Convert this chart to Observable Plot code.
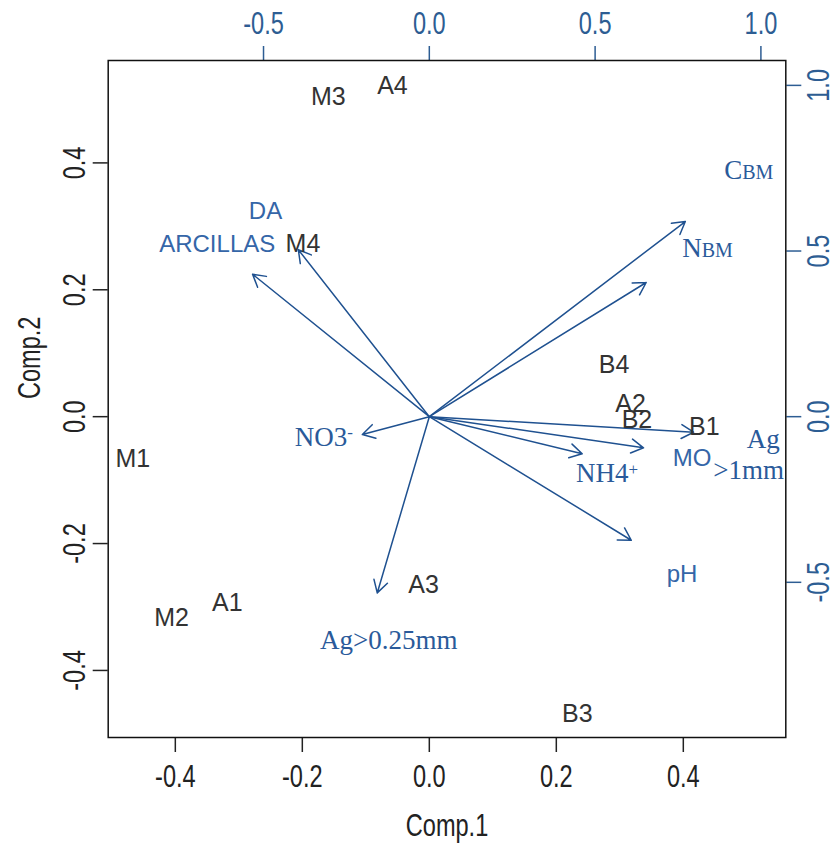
<!DOCTYPE html>
<html>
<head>
<meta charset="utf-8">
<script src="https://cdn.jsdelivr.net/npm/d3@7"></script>
<script src="https://cdn.jsdelivr.net/npm/@observablehq/plot@0.6"></script>
<style>
  html, body { margin: 0; padding: 0; background: #fff; }
  svg { display: block; }
</style>
</head>
<body>
<div id="chart"></div>
<script>
// ---- data ----
const sampleNames = ["M3","A4","M4","B4","A2","B2","B1","M1","A3","A1","M2","B3"];
const comp1 = [-0.159,-0.058,-0.199,0.291,0.317,0.327,0.433,-0.467,-0.009,-0.318,-0.406,0.233];
const comp2 = [0.504,0.521,0.272,0.081,0.020,-0.005,-0.017,-0.066,-0.266,-0.293,-0.317,-0.468];

// variable loadings (arrow tips, in units of the top/right axes)
const varNames = ["ARCILLAS","DA","NO3-","Ag>0.25mm","pH","NH4+","MO","Ag>1mm","CBM","NBM"];
const load1 = [-0.533,-0.395,-0.202,-0.157,0.609,0.461,0.646,0.797,0.654,0.772];
const load2 = [0.430,0.504,-0.054,-0.532,-0.373,-0.112,-0.094,-0.047,0.405,0.589];

// variable label positions (in Comp.1 / Comp.2 units)
const sansLabels = ["DA","ARCILLAS","MO","pH"];
const sansX = [-0.258,-0.334,0.414,0.398];
const sansY = [0.323,0.272,-0.065,-0.248];
const serifLabels = ["NO3-","Ag>0.25mm","NH4+","Ag",">1mm","CBM","NBM"];
const serifX = [-0.166,-0.064,0.280,0.526,0.503,0.503,0.438];
const serifY = [-0.032,-0.353,-0.090,-0.035,-0.085,0.388,0.265];

// axes
const xTicks = [-0.4,-0.2,0.0,0.2,0.4];
const yTicks = [-0.4,-0.2,0.0,0.2,0.4];
const topTicks = [-0.5,0.0,0.5,1.0];
const rightTicks = [-0.5,0.0,0.5,1.0];
const ratio = 1.915;           // loadings axis units per score axis unit
const lim = [-0.5057, 0.5614];

const dark = "#222";
const blueAxis = "#2d5d93";
const blueArrow = "#1f5190";
const blueSans = "#3566a8";
const blueSerif = "#2a5a9a";
const fmt = d => (Math.round(d * 10) / 10).toFixed(1);

const vi = d3.range(varNames.length);
const si = d3.range(sampleNames.length);

const chart = Plot.plot({
  width: 838,
  height: 844,
  marginLeft: 107.7,
  marginRight: 52.7,
  marginTop: 60,
  marginBottom: 107,
  x: {domain: lim},
  y: {domain: lim},
  style: {fontFamily: "'Liberation Sans', Arial, sans-serif", background: "#fff", color: dark},
  marks: [
    Plot.axisX({anchor: "bottom", ticks: xTicks, tickSize: 15, tickPadding: 12, tickFormat: fmt,
      fontSize: 31, label: null, color: dark, strokeWidth: 1.5}),
    Plot.axisX({anchor: "top", ticks: topTicks.map(t => t / ratio), tickSize: 15, tickPadding: 12,
      tickFormat: d => fmt(d * ratio), fontSize: 31, label: null, color: blueAxis, strokeWidth: 1.5}),
    Plot.axisY({anchor: "left", ticks: yTicks, tickSize: 15, tickFormat: () => "", label: null,
      color: dark, strokeWidth: 1.5}),
    Plot.axisY({anchor: "right", ticks: rightTicks.map(t => t / ratio), tickSize: 15, tickFormat: () => "",
      label: null, color: blueAxis, strokeWidth: 1.5}),
    Plot.text(yTicks, {y: d => d, frameAnchor: "left", dx: -33, rotate: -90, text: fmt,
      fontSize: 31, fill: dark, lineAnchor: "middle", textAnchor: "middle", className: "condensed"}),
    Plot.text(rightTicks, {y: d => d / ratio, frameAnchor: "right", dx: 33, rotate: -90, text: fmt,
      fontSize: 31, fill: blueAxis, lineAnchor: "middle", textAnchor: "middle", className: "condensed"}),
    Plot.text(["Comp.1"], {frameAnchor: "bottom", dy: 89, fontSize: 31, fill: dark,
      lineAnchor: "middle", className: "condensed"}),
    Plot.text(["Comp.2"], {frameAnchor: "left", dx: -78, rotate: -90, fontSize: 31, fill: dark,
      lineAnchor: "middle", className: "condensed"}),
    Plot.frame({stroke: "#111", strokeWidth: 1.5}),
    Plot.arrow(vi, {x1: 0, y1: 0, x2: i => load1[i] / ratio, y2: i => load2[i] / ratio,
      stroke: blueArrow, strokeWidth: 1.5, headLength: 14, headAngle: 60}),
    Plot.text(si, {x: i => comp1[i], y: i => comp2[i], text: i => sampleNames[i],
      fontSize: 25, fill: "#333", lineAnchor: "middle"}),
    Plot.text(d3.range(sansLabels.length), {x: i => sansX[i], y: i => sansY[i], text: i => sansLabels[i],
      fontSize: 24, fill: blueSans, lineAnchor: "middle"}),
    Plot.text(d3.range(serifLabels.length), {x: i => serifX[i], y: i => serifY[i], text: i => serifLabels[i],
      fontSize: 27, fill: blueSerif, lineAnchor: "middle",
      fontFamily: "'Liberation Serif', 'Times New Roman', serif"})
  ]
});

document.getElementById("chart").appendChild(chart);

const svg = d3.select(chart);
const rotatedOrTitle = new Set(["Comp.1", "Comp.2"]);

// condensed tick labels and axis titles (as in the reference)
svg.selectAll("text").each(function () {
  const p = this.parentNode;
  const parentLabel = (p && p.getAttribute && p.getAttribute("aria-label")) || "";
  const cls = ((p && p.getAttribute && p.getAttribute("class")) || "") + " " + (this.getAttribute("class") || "");
  const isTick = /tick label/.test(parentLabel);
  const isCondensed = /condensed/.test(cls) || rotatedOrTitle.has(this.textContent);
  if (isTick || isCondensed) {
    const t = this.getAttribute("transform") || "";
    this.setAttribute("transform", t + " scale(0.76,1)");
  }
});

// sub- and superscripts in the variable labels
svg.selectAll("text").each(function () {
  const t = this.textContent;
  const sel = d3.select(this);
  if (t === "CBM" || t === "NBM") {
    sel.text(t[0]);
    sel.append("tspan").attr("font-size", 20).text("BM");
  } else if (t === "NO3-" || t === "NH4+") {
    sel.text(t.slice(0, 3));
    sel.append("tspan").attr("font-size", 17).attr("dy", "-0.45em").text(t[3]);
  }
});
</script>
</body>
</html>
